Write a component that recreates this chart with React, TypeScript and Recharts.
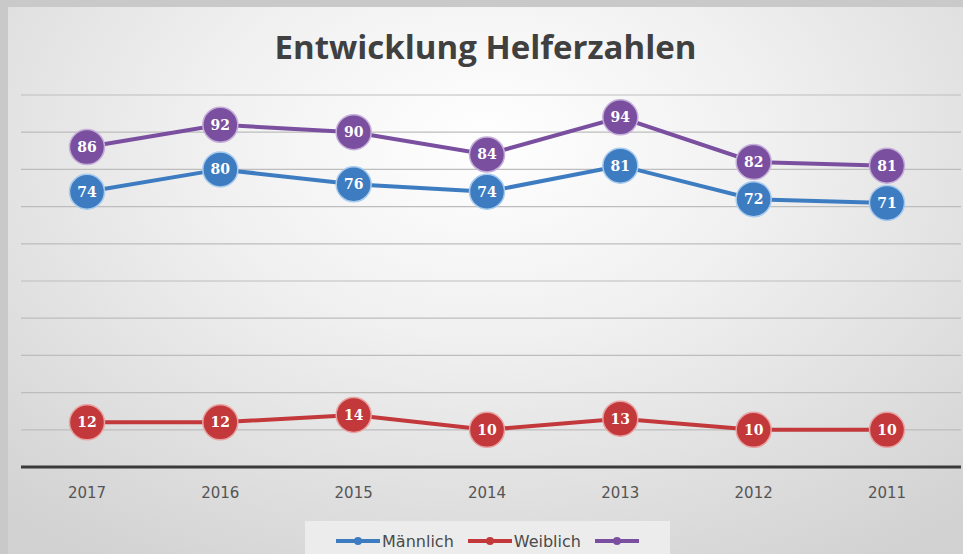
import { LineChart, Line, XAxis, YAxis, CartesianGrid, Legend, LabelList } from 'recharts';

const years = ['2017', '2016', '2015', '2014', '2013', '2012', '2011'];
const maennlich = [74, 80, 76, 74, 81, 72, 71];
const weiblich = [12, 12, 14, 10, 13, 10, 10];
const gesamt = [86, 92, 90, 84, 94, 82, 81];
const yTicks = [0, 10, 20, 30, 40, 50, 60, 70, 80, 90, 100];
const legendOrder = ['maennlich', 'weiblich', 'gesamt'];

const data = years.map((year, i) => ({
  year,
  maennlich: maennlich[i],
  weiblich: weiblich[i],
  gesamt: gesamt[i],
}));

const BLUE = '#3d7cc1';
const RED = '#c2383b';
const PURPLE = '#7a4f9f';

const makeDot = (fill: string, ring: string) => (props: any) => {
  const { cx, cy, index } = props;
  if (cx == null || cy == null) return null;
  return <circle key={index} cx={cx} cy={cy} r={17.5} fill={fill} stroke={ring} strokeWidth={1.5} />;
};

const labelStyle = {
  fill: '#ffffff',
  fontFamily: '"DejaVu Serif", serif',
  fontWeight: 700,
  fontSize: 14,
};

const renderLegend = (props: any) => {
  const items = [...(props.payload || [])].sort(
    (a: any, b: any) => legendOrder.indexOf(a.dataKey) - legendOrder.indexOf(b.dataKey)
  );
  return (
    <div
      style={{
        width: 365,
        height: 40,
        background: '#ececec',
        display: 'flex',
        alignItems: 'center',
        justifyContent: 'center',
        gap: 12,
        fontFamily: '"DejaVu Sans", sans-serif',
        fontSize: 16,
        color: '#4a4a4a',
      }}
    >
      {items.map((item: any) => (
        <div key={item.dataKey} style={{ display: 'flex', alignItems: 'center' }}>
          <svg width={48} height={12}>
            <line x1={2} y1={6} x2={46} y2={6} stroke={item.color} strokeWidth={4} />
            <circle cx={24} cy={6} r={4} fill={item.color} />
          </svg>
          {item.value ? <span>{item.value}</span> : null}
        </div>
      ))}
    </div>
  );
};

export default function App() {
  return (
    <div style={{ position: 'absolute', left: 0, top: 0, width: 963, height: 554, background: '#c9c9c9', overflow: 'hidden' }}>
      <div
        style={{
          position: 'absolute',
          left: 8,
          top: 7,
          width: 955,
          height: 547,
          background: 'radial-gradient(ellipse 75% 90% at 50% 25%, #ffffff 0%, #f0f0f0 40%, #d2d2d2 100%)',
        }}
      >
        <div
          style={{
            position: 'absolute',
            left: 0,
            right: 0,
            top: 17,
            textAlign: 'center',
            fontFamily: '"Open Sans", sans-serif',
            fontWeight: 700,
            fontSize: 33,
            color: '#404040',
          }}
        >
          Entwicklung Helferzahlen
        </div>
        <LineChart
          width={955}
          height={547}
          data={data}
          margin={{ top: 88, right: 2, bottom: 17, left: 13 }}
          style={{ position: 'absolute', left: 0, top: 0 }}
        >
          <CartesianGrid vertical={false} stroke="#bdbdbd" strokeWidth={1.2} />
          <XAxis
            dataKey="year"
            padding={{ left: 66, right: 74 }}
            axisLine={{ stroke: '#3a3a3a', strokeWidth: 3 }}
            tickLine={false}
            tick={{ fill: '#555555', fontSize: 15, fontFamily: '"DejaVu Sans", sans-serif' }}
            tickMargin={14}
          />
          <YAxis hide domain={[0, 100]} ticks={yTicks} />
          <Legend
            content={renderLegend}
            wrapperStyle={{ left: 297, width: 365, height: 40, bottom: -7 }}
          />
          <Line
            dataKey="weiblich"
            name="Weiblich"
            stroke={RED}
            strokeWidth={4}
            dot={makeDot(RED, '#e9a2a2')}
            isAnimationActive={false}
          >
            <LabelList dataKey="weiblich" position="center" style={labelStyle} />
          </Line>
          <Line
            dataKey="gesamt"
            name=""
            stroke={PURPLE}
            strokeWidth={4}
            dot={makeDot(PURPLE, '#c5afd9')}
            isAnimationActive={false}
          >
            <LabelList dataKey="gesamt" position="center" style={labelStyle} />
          </Line>
          <Line
            dataKey="maennlich"
            name="Männlich"
            stroke={BLUE}
            strokeWidth={4}
            dot={makeDot(BLUE, '#a9cbed')}
            isAnimationActive={false}
          >
            <LabelList dataKey="maennlich" position="center" style={labelStyle} />
          </Line>
        </LineChart>
      </div>
    </div>
  );
}
